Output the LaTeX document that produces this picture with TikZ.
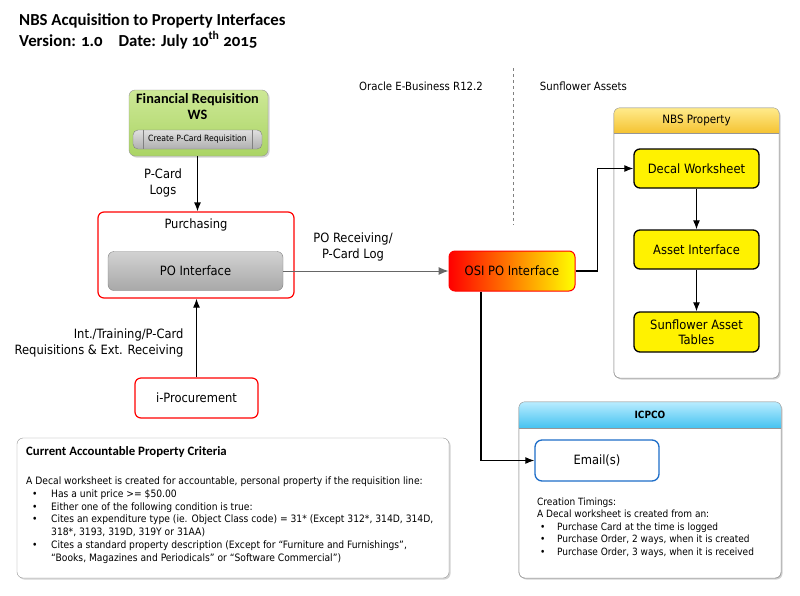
\documentclass[tikz,border=0pt]{standalone}
\usepackage{fontspec}
\setmainfont{DejaVu Sans Condensed}
\newfontfamily\titlefont{Carlito}[Numbers=OldStyle]
\usetikzlibrary{calc}
\usetikzlibrary{arrows.meta}
\usetikzlibrary{shadows}

\definecolor{fingreen}{RGB}{170,212,100}
\definecolor{fingreenlt}{RGB}{205,232,150}
\definecolor{bargrey}{RGB}{175,175,175}
\definecolor{pogrey}{RGB}{168,168,168}
\definecolor{pogreylt}{RGB}{210,210,210}
\definecolor{hdryellow}{RGB}{245,195,50}
\definecolor{hdryellowlt}{RGB}{255,235,140}
\definecolor{hdrblue}{RGB}{70,195,240}
\definecolor{hdrbluelt}{RGB}{185,236,255}
\definecolor{mailblue}{RGB}{30,110,200}
\definecolor{boxgrey}{RGB}{150,150,150}

\tikzset{
  lbl/.style={font=\fontsize{12.8}{15.5}\selectfont, align=center},
  small/.style={font=\fontsize{10.2}{12.8}\selectfont, align=left, anchor=north west, inner sep=0pt},
  redbox/.style={draw=red, line width=1.2pt, rounded corners=6pt, fill=white},
  yelbox/.style={draw=black, line width=1.3pt, rounded corners=6pt, fill=yellow, minimum width=125pt, font=\fontsize{12.8}{15.5}\selectfont, align=center},
  container/.style={draw=boxgrey, rounded corners=6pt, fill=white, drop shadow={shadow xshift=1.5pt, shadow yshift=-1.5pt, opacity=.35}},
  arr/.style={-{Latex[length=9pt,width=7pt]}, line width=1.2pt},
  greyarr/.style={-{Latex[length=10pt,width=8pt]}, line width=1pt, draw=gray!80!black, color=gray!80!black},
}

\begin{document}
\begin{tikzpicture}[x=1pt,y=-1pt]
\useasboundingbox[fill=white] (0,0) rectangle (800,595);

\node[font=\titlefont\bfseries\fontsize{16.8}{21}\selectfont, align=left, anchor=north west, inner sep=0pt] (title) at (19,13)
  {NBS Acquisition to Property Interfaces\\Version: 1.0\hspace{16pt}Date: July 10\textsuperscript{th} 2015};

\node[font=\fontsize{11.3}{13}\selectfont] (oracle) at (421,86) {Oracle E-Business R12.2};
\node[font=\fontsize{11.3}{13}\selectfont] (sunflower) at (583.5,86) {Sunflower Assets};
\coordinate (divtop) at (513,68);
\coordinate (divbot) at (513,225);
\draw[dashed, gray, line width=.8pt] (divtop) -- (divbot);

\node[draw=boxgrey, rounded corners=6pt, top color=fingreenlt, bottom color=fingreen, minimum width=139pt, minimum height=66pt, drop shadow={shadow xshift=1.5pt, shadow yshift=-1.5pt, opacity=.35}] (finreq) at (198.5,123) {};
\node[font=\titlefont\bfseries\fontsize{14.3}{16}\selectfont, align=center] (fintitle) at (197.5,107) {Financial Requisition\\WS};
\node[draw=gray, rounded corners=5pt, top color=gray!25, bottom color=bargrey, minimum width=129pt, minimum height=19pt, font=\fontsize{8.6}{10}\selectfont, inner sep=0pt] (createbar) at (197.5,139.5) {Create P-Card Requisition};
\draw[gray] ([xshift=10pt]createbar.north west) -- ([xshift=10pt]createbar.south west);
\draw[gray] ([xshift=-10pt]createbar.north east) -- ([xshift=-10pt]createbar.south east);

\node[redbox, minimum width=196pt, minimum height=86pt] (purch) at (196,255) {};
\node[lbl] (purchlbl) at (196,225) {Purchasing};
\node[draw=gray, rounded corners=6pt, top color=pogreylt, bottom color=pogrey, minimum width=175pt, minimum height=39pt, lbl] (point) at (195.5,271) {PO Interface};

\node[redbox, minimum width=123pt, minimum height=40pt, lbl] (iproc) at (196.5,398) {i-Procurement};

\node[draw=red, line width=1pt, rounded corners=6pt, left color=red, right color=yellow, minimum width=126pt, minimum height=40pt, lbl] (osi) at (512,271) {OSI PO Interface};

\node[container, minimum width=165pt, minimum height=270pt] (nbs) at (696.5,243) {};
\begin{scope}
\clip[rounded corners=6pt] (nbs.south west) rectangle (nbs.north east);
\shade[top color=hdryellowlt, bottom color=hdryellow] (nbs.north west) rectangle ($(nbs.north east)+(0,25)$);
\end{scope}
\draw[boxgrey] ($(nbs.north west)+(0,25)$) -- ($(nbs.north east)+(0,25)$);
\draw[boxgrey, rounded corners=6pt] (nbs.south west) rectangle (nbs.north east);
\node[font=\fontsize{11.5}{13}\selectfont] (nbslbl) at ($(nbs.north)+(0,12.5)$) {NBS Property};

\node[yelbox, minimum height=39pt] (decal) at (696.5,168.5) {Decal Worksheet};
\node[yelbox, minimum height=39pt] (asset) at (696.5,249.5) {Asset Interface};
\node[yelbox, minimum height=40pt] (tables) at (696.5,332) {Sunflower Asset\\Tables};

\node[container, minimum width=262pt, minimum height=176pt] (icpco) at (650,490) {};
\begin{scope}
\clip[rounded corners=6pt] (icpco.south west) rectangle (icpco.north east);
\shade[top color=hdrbluelt, bottom color=hdrblue] (icpco.north west) rectangle ($(icpco.north east)+(0,26)$);
\end{scope}
\draw[boxgrey] ($(icpco.north west)+(0,26)$) -- ($(icpco.north east)+(0,26)$);
\draw[boxgrey, rounded corners=6pt] (icpco.south west) rectangle (icpco.north east);
\node[font=\bfseries\fontsize{10}{12}\selectfont] (icpcolbl) at ($(icpco.north)+(0,13)$) {ICPCO};
\node[draw=mailblue, line width=1.3pt, rounded corners=7pt, fill=white, minimum width=124pt, minimum height=41pt, lbl] (email) at (597,460.5) {Email(s)};
\node[small, font=\fontsize{10}{12.5}\selectfont] (timings) at (537,497.5)
  {Creation Timings:\\
   A Decal worksheet is created from an:\\
   \hspace*{3pt}\makebox[17pt][l]{\textbullet}Purchase Card at the time is logged\\
   \hspace*{3pt}\makebox[17pt][l]{\textbullet}Purchase Order, 2 ways, when it is created\\
   \hspace*{3pt}\makebox[17pt][l]{\textbullet}Purchase Order, 3 ways, when it is received};

\node[container, minimum width=432pt, minimum height=140pt] (criteria) at (233,508) {};
\node[font=\titlefont\bfseries\fontsize{12.8}{14}\selectfont, anchor=west, inner sep=0pt] (critlbl) at (26,452) {Current Accountable Property Criteria};
\node[small] (crittext) at (26,476.5)
  {A Decal worksheet is created for accountable, personal property if the requisition line:\\
   \hspace*{6pt}\makebox[19pt][l]{\textbullet}Has a unit price >= \$50.00\\
   \hspace*{6pt}\makebox[19pt][l]{\textbullet}Either one of the following condition is true:\\
   \hspace*{6pt}\makebox[19pt][l]{\textbullet}Cites an expenditure type (ie. Object Class code) = 31* (Except 312*, 314D, 314D,\\
   \hspace*{25pt}318*, 3193, 319D, 319Y or 31AA)\\
   \hspace*{6pt}\makebox[19pt][l]{\textbullet}Cites a standard property description (Except for “Furniture and Furnishings”,\\
   \hspace*{25pt}“Books, Magazines and Periodicals” or “Software Commercial”)};

\draw[arr] (finreq.south -| fintitle.south) -- (purch.north -| fintitle.south);
\node[lbl] (pcardlogs) at (163,183) {P-Card\\Logs};
\draw[arr] (iproc.north) -- (iproc.north |- purch.south);
\node[lbl, align=right, anchor=east] (intlbl) at (187,343) {Int./Training/P-Card\\Requisitions \& Ext. Receiving};
\draw[greyarr] (point.east) -- (osi.west);
\node[lbl] (porec) at (353,247) {PO Receiving/\\P-Card Log};
\draw[arr] (osi.east) -- ++(22,0) |- (decal.west);
\draw[arr] ([xshift=-31pt]osi.south) |- (email.west);
\draw[arr] (decal) -- (asset);
\draw[arr] (asset) -- (tables);
\end{tikzpicture}
\end{document}
